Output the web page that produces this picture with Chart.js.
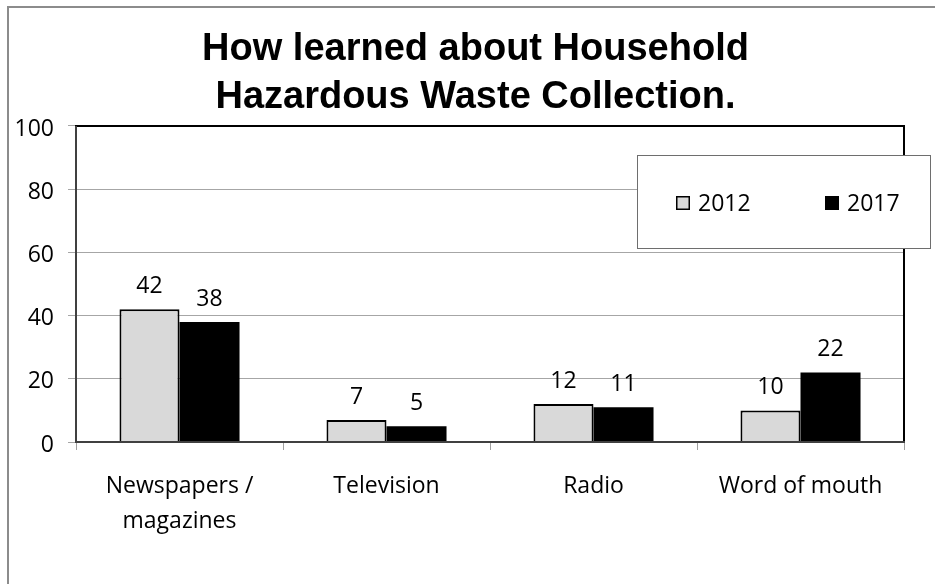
<!DOCTYPE html>
<html>
<head>
<meta charset="utf-8">
<script src="https://cdn.jsdelivr.net/npm/chart.js@4.4.1/dist/chart.umd.min.js"></script>
<style>
html,body{margin:0;padding:0;background:#fff;}
canvas{display:block;}
</style>
</head>
<body>
<canvas id="c" width="935" height="584"></canvas>
<script>
const titleLines = ["How learned about Household", "Hazardous Waste Collection."];
const categories = [["Newspapers /", "magazines"], "Television", "Radio", "Word of mouth"];
const seriesNames = ["2012", "2017"];
const values2012 = [42, 7, 12, 10];
const values2017 = [38, 5, 11, 22];
const yMin = 0, yMax = 100, yStep = 20;

const FONT = "'Open Sans', 'Noto Sans', sans-serif";

const bgPlugin = {
  id: 'bg',
  beforeDraw(chart) {
    const ctx = chart.ctx;
    ctx.save();
    ctx.fillStyle = '#fff';
    ctx.fillRect(0, 0, chart.width, chart.height);
    ctx.strokeStyle = '#8c8c8c';
    ctx.lineWidth = 2;
    ctx.strokeRect(8, 7, chart.width + 20, chart.height + 20);
    ctx.restore();
  }
};

const framePlugin = {
  id: 'frame',
  afterDatasetsDraw(chart) {
    const ctx = chart.ctx;
    const a = chart.chartArea;
    ctx.save();
    ctx.strokeStyle = '#000';
    ctx.lineWidth = 2;
    ctx.beginPath();
    ctx.moveTo(a.left - 1, a.top);
    ctx.lineTo(a.right, a.top);
    ctx.lineTo(a.right, a.bottom);
    ctx.stroke();
    ctx.strokeStyle = '#404040';
    ctx.beginPath();
    ctx.moveTo(a.left, a.top);
    ctx.lineTo(a.left, a.bottom);
    ctx.lineTo(a.right + 1, a.bottom);
    ctx.stroke();
    ctx.fillStyle = '#000';
    ctx.font = "23px " + FONT;
    ctx.textAlign = 'center';
    ctx.textBaseline = 'alphabetic';
    chart.data.datasets.forEach((ds, di) => {
      const meta = chart.getDatasetMeta(di);
      meta.data.forEach((bar, i) => {
        ctx.fillText(String(ds.data[i]), bar.x, bar.y - 16);
      });
    });
    ctx.restore();
  },
  afterDraw(chart) {
    const ctx = chart.ctx;
    ctx.save();
    const bx = 637, by = 155, bw = 293, bh = 93;
    ctx.fillStyle = '#fff';
    ctx.fillRect(bx, by, bw, bh);
    ctx.strokeStyle = '#6e6e6e';
    ctx.lineWidth = 1;
    ctx.strokeRect(bx + 0.5, by + 0.5, bw, bh);
    const itemX = [676, 825];
    const cy = 203;
    ctx.font = "23px " + FONT;
    ctx.textAlign = 'left';
    ctx.textBaseline = 'middle';
    chart.data.datasets.forEach((ds, di) => {
      const x = itemX[di];
      ctx.fillStyle = ds.backgroundColor;
      ctx.fillRect(x, cy - 7, 14, 14);
      if (ds.borderWidth) {
        ctx.strokeStyle = '#000';
        ctx.lineWidth = 1.5;
        ctx.strokeRect(x + 0.75, cy - 6.25, 12.5, 12.5);
      }
      ctx.fillStyle = '#000';
      ctx.fillText(ds.label, x + 22, cy + 1);
    });
    ctx.restore();
  }
};

new Chart(document.getElementById('c'), {
  type: 'bar',
  data: {
    labels: categories,
    datasets: [
      { label: seriesNames[0], data: values2012, backgroundColor: '#d9d9d9', borderColor: '#000', borderWidth: 2, borderSkipped: 'bottom' },
      { label: seriesNames[1], data: values2017, backgroundColor: '#000000', borderWidth: 0 }
    ]
  },
  options: {
    responsive: false,
    animation: false,
    devicePixelRatio: 1,
    categoryPercentage: 0.58,
    barPercentage: 1,
    layout: { padding: { left: 16, right: 0, top: 0, bottom: 0 } },
    plugins: {
      legend: { display: false },
      tooltip: { enabled: false },
      title: {
        display: true,
        text: titleLines,
        color: '#000',
        font: { family: "'Liberation Sans', Arial, sans-serif", size: 38, weight: 'bold', lineHeight: 1.276 },
        padding: { top: 25, bottom: 4 }
      }
    },
    scales: {
      x: {
        grid: { display: true, drawOnChartArea: false, drawTicks: true, tickLength: 8, color: '#a0a0a0', offset: true },
        border: { display: false },
        ticks: { color: '#000', font: { family: FONT, size: 23, lineHeight: 1.52 }, padding: 19, maxRotation: 0, autoSkip: false },
        afterFit(s) { s.height = 142; }
      },
      y: {
        min: yMin, max: yMax,
        grid: { color: '#a6a6a6', lineWidth: 1, tickLength: 8 },
        border: { display: false },
        ticks: { stepSize: yStep, color: '#000', font: { family: FONT, size: 23 }, padding: 14, labelOffset: 3 },
        afterFit(s) { s.width = 60; }
      },
      y2: {
        position: 'right',
        display: true,
        grid: { display: false },
        border: { display: false },
        ticks: { display: false },
        afterFit(s) { s.width = 31; }
      }
    }
  },
  plugins: [bgPlugin, framePlugin]
});
</script>
</body>
</html>
